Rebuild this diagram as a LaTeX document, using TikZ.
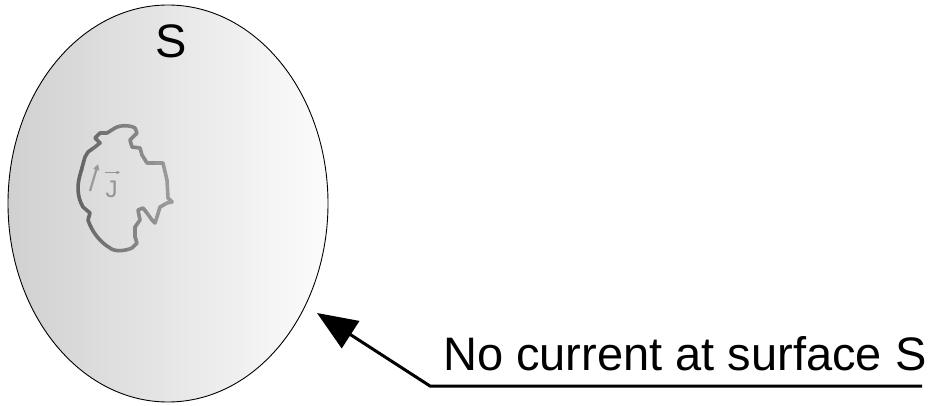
\documentclass[tikz,border=0pt]{standalone}
\usepackage{fontspec}
\setmainfont{Liberation Sans}
\usetikzlibrary{shapes.geometric,arrows.meta}
\definecolor{surfL}{RGB}{208,208,208}
\definecolor{surfM}{RGB}{234,234,234}
\definecolor{surfR}{RGB}{252,252,252}
\definecolor{loopL}{RGB}{160,160,160}
\definecolor{loopR}{RGB}{100,100,100}
\tikzset{
  surface/.style={ellipse, draw=black, line width=0.9pt,
    minimum width=320pt, minimum height=397pt, inner sep=0pt,
    left color=surfL, middle color=surfM, right color=surfR},
  bigtext/.style={font=\fontsize{47}{52}\selectfont, inner sep=0pt},
  pointer/.style={line width=3pt, -{Triangle[length=40pt,width=32pt]}},
  current/.style={line width=2.2pt, color=gray!80, -{Triangle[length=6pt,width=6pt]}},
}
\begin{document}
\begin{tikzpicture}[x=1pt,y=-1pt]
\useasboundingbox (0,0) rectangle (936,406);

% closed surface S
\node[surface] (surf) at (168,203.5) {};
\node[bigtext, anchor=base] (slabel) at (171,58) {S};

% current-carrying region, outline shaded from light (left) to dark (right)
\def\blob{(115,128) .. controls (120,125) and (130,125) .. (135,128)
  -- (137,133) -- (130,140) -- (132,147) -- (140,148) -- (142,155)
  -- (147,163) -- (163,163) -- (167,180) -- (168,198) -- (172,202)
  -- (167,203) -- (160,207) -- (157,217) -- (155,223) -- (152,220)
  -- (147,213) -- (143,208) -- (138,210) -- (140,220) -- (135,227)
  -- (135,237) -- (137,243) -- (132,248)
  .. controls (125,251) and (115,252) .. (110,248)
  .. controls (100,242) and (92,232) .. (88,220)
  -- (90,213) -- (83,207)
  .. controls (77,197) and (77,185) .. (80,175)
  -- (85,157) -- (88,152) -- (95,147) -- (100,143) -- (95,138)
  -- (100,133) -- (107,133) -- cycle}
\foreach \i in {0,...,11}{
  \pgfmathsetmacro{\xa}{74+\i*9}
  \pgfmathsetmacro{\pc}{100-\i*9}
  \begin{scope}
    \clip (\xa,100) rectangle (\xa+9.3,270);
    \draw[line width=3.6pt, line join=round, color=loopR!\pc!loopL] \blob;
  \end{scope}
}

% current density inside the region
\coordinate (jtail) at (90,191);
\coordinate (jhead) at (98,164);
\draw[current] (jtail) -- (jhead);
\node[font=\fontsize{24}{26}\selectfont, text=gray!85, anchor=base, inner sep=0pt] (jlabel) at (111.5,197) {J};
\coordinate (jbarL) at (105,172.5);
\coordinate (jbarR) at (120,172.5);
\draw[line width=0.9pt, color=gray!85, -{Triangle[length=3.5pt,width=3.5pt]}] (jbarL) -- (jbarR);

% annotation
\node[bigtext, anchor=base west] (note) at (443,370) {No current at surface S};
\coordinate (lineR) at (922,386);
\coordinate (lineL) at (430,386);
\coordinate (tip) at (317,313);
\draw[pointer] (lineR) -- (lineL) -- (tip);
\end{tikzpicture}
\end{document}
